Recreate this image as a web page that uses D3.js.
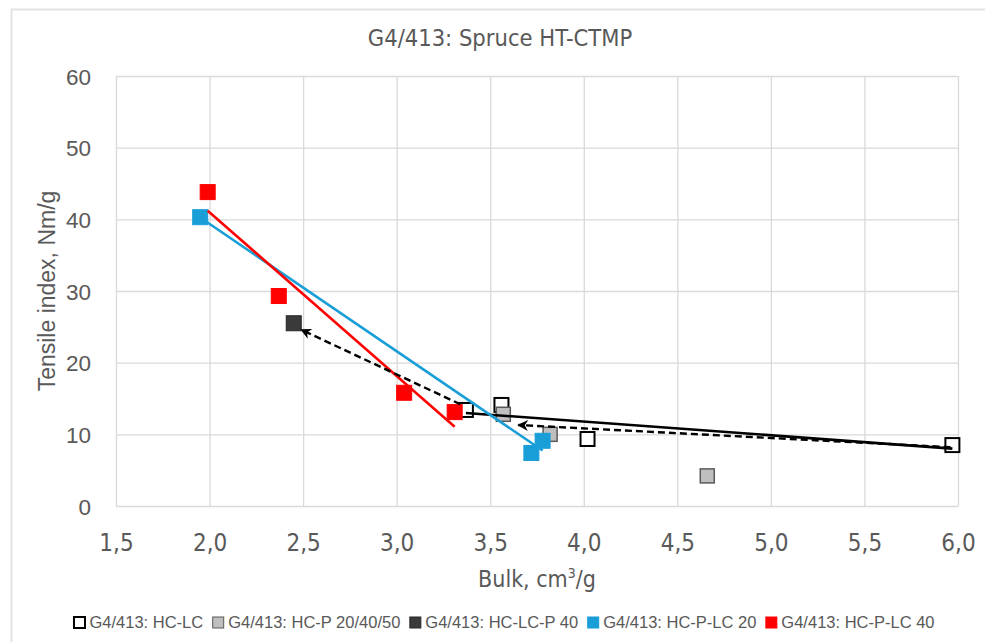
<!DOCTYPE html>
<html>
<head>
<meta charset="utf-8">
<script src="https://cdn.jsdelivr.net/npm/d3@7"></script>
<style>
  html, body { margin: 0; padding: 0; background: #ffffff; }
  svg { display: block; }
</style>
</head>
<body>
<svg id="chart" width="985" height="642"></svg>
<script>
// ---- data ----------------------------------------------------------------
const seriesNames = [
  "G4/413: HC-LC",
  "G4/413: HC-P 20/40/50",
  "G4/413: HC-LC-P 40",
  "G4/413: HC-P-LC 20",
  "G4/413: HC-P-LC 40"
];
const hcLcBulk     = [3.37, 3.56, 4.02, 5.97];
const hcLcTensile  = [13.4, 14.1, 9.35, 8.5];
const hcPBulk      = [3.57, 3.82, 4.66];
const hcPTensile   = [12.8, 10.0, 4.2];
const hcLcP40Bulk    = [2.45];
const hcLcP40Tensile = [25.5];
const hcPLc20Bulk    = [1.95, 3.72, 3.78];
const hcPLc20Tensile = [40.3, 7.4, 9.1];
const hcPLc40Bulk    = [1.99, 2.37, 3.04, 3.31];
const hcPLc40Tensile = [43.8, 29.3, 15.8, 13.1];

// dashed annotation arrows: [bulk, tensile] start -> end
const arrowStarts = [[3.34, 14.2], [5.96, 8.2]];
const arrowEnds   = [[2.49, 24.6], [3.65, 11.3]];

const xTicks = [1.5, 2.0, 2.5, 3.0, 3.5, 4.0, 4.5, 5.0, 5.5, 6.0];
const yTicks = [0, 10, 20, 30, 40, 50, 60];

const titleText = "G4/413: Spruce HT-CTMP";
const xTitleMain = "Bulk, cm";
const xTitleSup = "3";
const xTitleTail = "/g";
const yTitle = "Tensile index, Nm/g";

// ---- styles --------------------------------------------------------------
const styles = [
  { fill: "#ffffff", stroke: "#000000", sw: 2,   size: 14, trend: "#000000" },
  { fill: "#bfbfbf", stroke: "#595959", sw: 1.5, size: 14, trend: null },
  { fill: "#3a3a3a", stroke: "#262626", sw: 1,   size: 15, trend: null },
  { fill: "#1a9ed8", stroke: "#1a9ed8", sw: 1,   size: 15, trend: "#1a9ed8" },
  { fill: "#ff0000", stroke: "#ff0000", sw: 1,   size: 15, trend: "#ff0000" }
];

const series = [
  [hcLcBulk, hcLcTensile],
  [hcPBulk, hcPTensile],
  [hcLcP40Bulk, hcLcP40Tensile],
  [hcPLc20Bulk, hcPLc20Tensile],
  [hcPLc40Bulk, hcPLc40Tensile]
].map(([xs, ys], i) => ({
  name: seriesNames[i],
  style: styles[i],
  points: xs.map((x, j) => ({ x, y: ys[j] }))
}));

const narrow = "'Liberation Sans Narrow', 'Arial Narrow', 'DejaVu Sans Condensed', sans-serif";
const sans = "'Liberation Sans', Arial, sans-serif";
const textColor = "#595959";
const gridColor = "#d9d9d9";

// ---- layout --------------------------------------------------------------
const svg = d3.select("#chart");
const plot = { left: 116, right: 958, top: 76, bottom: 506 };

const x = d3.scaleLinear().domain([1.5, 6.0]).range([plot.left, plot.right]);
const y = d3.scaleLinear().domain([0, 60]).range([plot.bottom, plot.top]);

// chart frame
svg.append("rect")
  .attr("x", 11.5).attr("y", 9.5)
  .attr("width", 1000).attr("height", 700)
  .attr("fill", "#ffffff")
  .attr("stroke", "#e3e3e3").attr("stroke-width", 2);

// title
svg.append("text")
  .attr("x", 500).attr("y", 46)
  .attr("text-anchor", "middle")
  .attr("font-family", narrow).attr("font-size", 23.5)
  .attr("fill", textColor)
  .text(titleText);

// gridlines via axes
const xGrid = d3.axisBottom(x).tickValues(xTicks).tickSize(-(plot.bottom - plot.top)).tickFormat("");
const yGrid = d3.axisLeft(y).tickValues(yTicks).tickSize(-(plot.right - plot.left)).tickFormat("");

const gx = svg.append("g").attr("transform", `translate(0,${plot.bottom})`).call(xGrid);
gx.select(".domain").remove();
gx.selectAll(".tick line").attr("stroke", gridColor).attr("stroke-width", 1.3);

const gy = svg.append("g").attr("transform", `translate(${plot.left},0)`).call(yGrid);
gy.select(".domain").remove();
gy.selectAll(".tick line").attr("stroke", gridColor).attr("stroke-width", 1.3);

// tick labels
const fmt = d => d.toFixed(1).replace(".", ",");
const xLab = d3.axisBottom(x).tickValues(xTicks).tickSize(0).tickPadding(0).tickFormat(fmt);
const gxl = svg.append("g").attr("transform", `translate(0,${plot.bottom + 37})`).call(xLab);
gxl.select(".domain").remove();
gxl.selectAll("text")
  .attr("font-family", narrow).attr("font-size", 24)
  .attr("fill", textColor).attr("dy", "0.32em");

const yLab = d3.axisLeft(y).tickValues(yTicks).tickSize(0).tickPadding(0).tickFormat(d3.format("d"));
const gyl = svg.append("g").attr("transform", `translate(${plot.left - 25},0)`).call(yLab);
gyl.select(".domain").remove();
gyl.selectAll("text")
  .attr("font-family", sans).attr("font-size", 22.5)
  .attr("fill", textColor).attr("dy", "0.36em");

// axis titles
const xt = svg.append("text")
  .attr("x", (plot.left + plot.right) / 2).attr("y", 587)
  .attr("text-anchor", "middle")
  .attr("font-family", narrow).attr("font-size", 23)
  .attr("fill", textColor);
xt.append("tspan").text(xTitleMain);
xt.append("tspan").attr("font-size", 14).attr("dy", -9).text(xTitleSup);
xt.append("tspan").attr("dy", 9).text(xTitleTail);

svg.append("text")
  .attr("transform", `translate(55,${(plot.top + plot.bottom) / 2}) rotate(-90)`)
  .attr("text-anchor", "middle")
  .attr("font-family", sans).attr("font-size", 23)
  .attr("fill", textColor)
  .text(yTitle);

// markers
const markerLayer = svg.append("g");
series.forEach(s => {
  markerLayer.append("g")
    .selectAll("rect")
    .data(s.points)
    .join("rect")
    .attr("x", d => x(d.x) - s.style.size / 2)
    .attr("y", d => y(d.y) - s.style.size / 2)
    .attr("width", s.style.size).attr("height", s.style.size)
    .attr("fill", s.style.fill)
    .attr("stroke", s.style.stroke)
    .attr("stroke-width", s.style.sw);
});

// least-squares trendlines, spanning each series' bulk range
function linearFit(pts) {
  const mx = d3.mean(pts, p => p.x), my = d3.mean(pts, p => p.y);
  const sxy = d3.sum(pts, p => (p.x - mx) * (p.y - my));
  const sxx = d3.sum(pts, p => (p.x - mx) ** 2);
  const b = sxy / sxx;
  return v => my + b * (v - mx);
}
const line = d3.line().x(d => x(d[0])).y(d => y(d[1]));
series.forEach(s => {
  if (!s.style.trend) return;
  const f = linearFit(s.points);
  const [x0, x1] = d3.extent(s.points, p => p.x);
  svg.append("path")
    .attr("d", line([[x0, f(x0)], [x1, f(x1)]]))
    .attr("fill", "none")
    .attr("stroke", s.style.trend)
    .attr("stroke-width", 2.6);
});

// dashed arrows
svg.append("defs").append("marker")
  .attr("id", "arrowhead")
  .attr("viewBox", "0 0 10 10")
  .attr("refX", 9).attr("refY", 5)
  .attr("markerWidth", 6).attr("markerHeight", 4.5)
  .attr("markerUnits", "strokeWidth")
  .attr("orient", "auto")
  .append("path")
  .attr("d", "M0,0 L10,5 L0,10 L3,5 Z")
  .attr("fill", "#000000");

arrowStarts.forEach((a, i) => {
  svg.append("path")
    .attr("d", line([a, arrowEnds[i]]))
    .attr("fill", "none")
    .attr("stroke", "#000000")
    .attr("stroke-width", 2.4)
    .attr("stroke-dasharray", "7,4")
    .attr("marker-end", "url(#arrowhead)");
});

// legend
const legend = svg.append("g");
let cursor = 0;
const legendSize = 12;
series.forEach(s => {
  const g = legend.append("g");
  g.append("rect")
    .attr("x", cursor + 0.5).attr("y", -legendSize + 1)
    .attr("width", legendSize - 1).attr("height", legendSize - 1)
    .attr("fill", s.style.fill)
    .attr("stroke", s.style.stroke)
    .attr("stroke-width", s.style.sw === 2 ? 2 : 1);
  const t = g.append("text")
    .attr("x", cursor + legendSize + 4).attr("y", 0)
    .attr("font-family", sans).attr("font-size", 16.5)
    .attr("fill", textColor)
    .text(s.name);
  cursor += legendSize + 4 + t.node().getComputedTextLength() + 9;
});
const legendWidth = cursor - 9;
legend.attr("transform", `translate(${504 - legendWidth / 2},628)`);
</script>
</body>
</html>
